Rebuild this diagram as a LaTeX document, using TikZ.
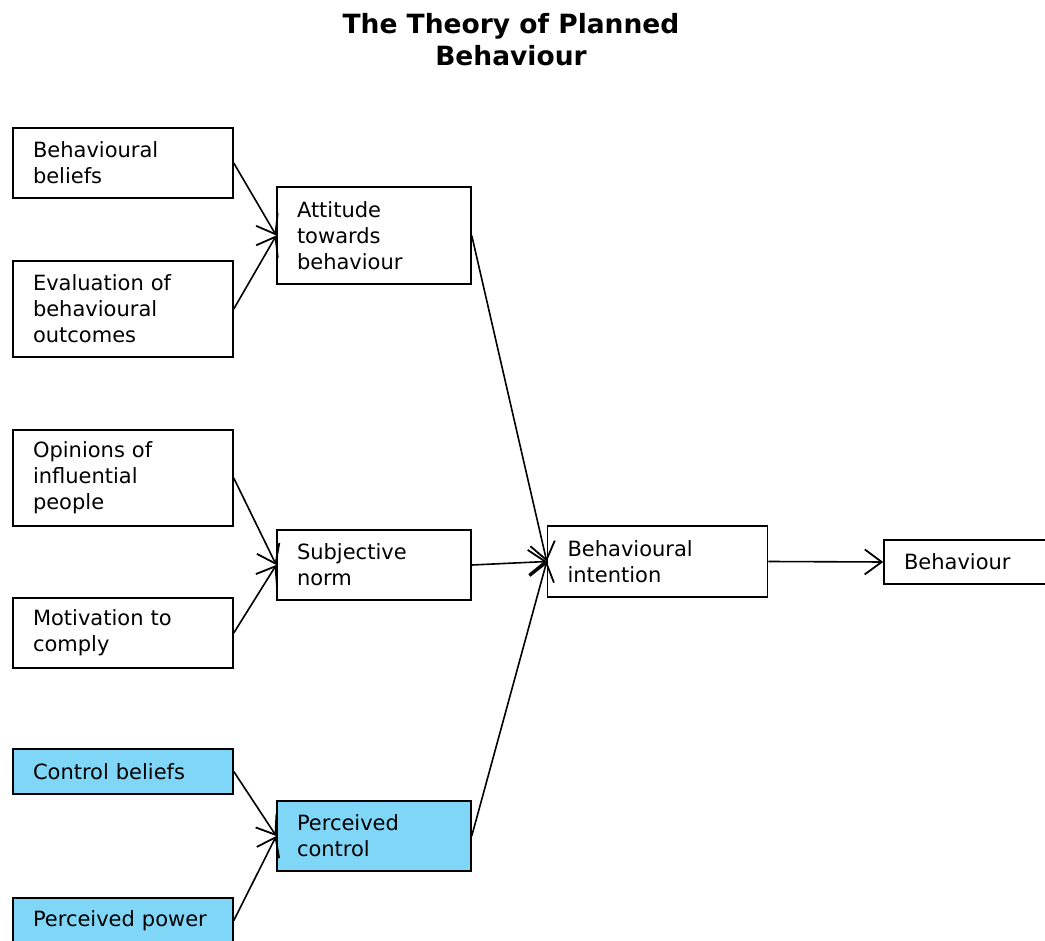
\documentclass[tikz,border=0pt]{standalone}
\usepackage{fontspec}
\setmainfont{DejaVu Sans}
\usetikzlibrary{arrows.meta}
\definecolor{ctrlblue}{rgb}{0.50,0.84,0.97}

\begin{document}
\begin{tikzpicture}[x=1pt, y=-1pt,
	box/.style={draw, line width=1.5pt, align=left, inner xsep=20pt, inner ysep=0pt,
		font=\fontsize{21}{26}\selectfont},
	lbox/.style={box, text width=180pt, minimum height=#1},
	mbox/.style={box, text width=154pt, minimum height=#1},
	link/.style={line width=1.6pt, -{Straight Barb[length=17pt, width=25pt, line width=1.8pt]}}]
	\useasboundingbox (0,0) rectangle (1045,941);
	\node[font=\fontsize{26.5}{32}\selectfont\bfseries, align=center] (title) at (511,40) {The Theory of Planned\\Behaviour};

	% left column
	\node[lbox=70] (bbel) at (123,163) {Behavioural\\beliefs};
	\node[lbox=96] (eval) at (123,309) {Evaluation of\\behavioural\\outcomes};
	\node[lbox=96] (opin) at (123,478) {Opinions of\\influential\\people};
	\node[lbox=70] (motiv) at (123,633) {Motivation to\\comply};
	\node[lbox=45, fill=ctrlblue] (cbel) at (123,771.5) {Control beliefs};
	\node[lbox=45, fill=ctrlblue] (ppow) at (123,920.5) {Perceived~power};

	% middle column
	\node[mbox=97] (att) at (374,235.5) {Attitude\\towards\\behaviour};
	\node[mbox=70] (norm) at (374,565) {Subjective\\norm};
	\node[mbox=70, fill=ctrlblue] (pctrl) at (374,836) {Perceived\\control};

	\node[lbox=71] (intent) at (657.5,561.5) {Behavioural\\intention};
	\node[box, text width=141pt, minimum height=44] (behav) at (974.5,562) {Behaviour};

	\draw[link] (bbel.east) -- (att.west);
	\draw[link] (eval.east) -- (att.west);
	\draw[link] (opin.east) -- (norm.west);
	\draw[link] (motiv.east) -- (norm.west);
	\draw[link] (cbel.east) -- (pctrl.west);
	\draw[link] (ppow.east) -- (pctrl.west);
	\draw[link] (att.east) -- (intent.west);
	\draw[link] (norm.east) -- (intent.west);
	\draw[link] (pctrl.east) -- (intent.west);
	\draw[link] (intent.east) -- (behav.west);
\end{tikzpicture}
\end{document}
